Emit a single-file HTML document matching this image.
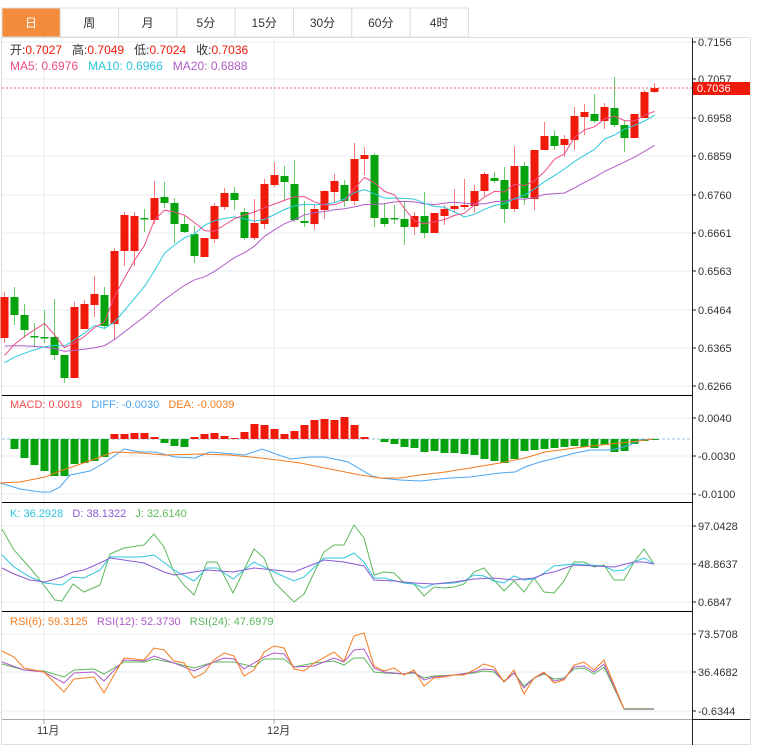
<!DOCTYPE html>
<html><head><meta charset="utf-8">
<style>
body{margin:0;background:#fff;font-family:"Liberation Sans","Noto Sans CJK SC",sans-serif;}
#wrap{position:relative;width:757px;height:753px;overflow:hidden;}
svg text{font-family:"Liberation Sans","Noto Sans CJK SC",sans-serif;white-space:pre;}
</style></head><body><div id="wrap"><svg id="s" width="757" height="753" xmlns="http://www.w3.org/2000/svg"></svg></div>
<script>
var S=document.getElementById('s'),h='';
function L(x1,y1,x2,y2,c,w,d){h+='<line x1="'+x1+'" y1="'+y1+'" x2="'+x2+'" y2="'+y2+'" stroke="'+c+'" stroke-width="'+(w||1)+'"'+(d?' stroke-dasharray="'+d+'"':'')+'/>';}
function R(x,y,w,hh,f,st){h+='<rect x="'+x+'" y="'+y+'" width="'+w+'" height="'+hh+'" fill="'+f+'"'+(st?' stroke="'+st+'"':'')+'/>';}
function T(x,y,t,c,sz,a){h+='<text x="'+x+'" y="'+y+'" fill="'+c+'" font-size="'+(sz||11)+'"'+(a?' text-anchor="'+a+'"':'')+'>'+t+'</text>';}
function P(pts,c,w){h+='<polyline fill="none" stroke="'+c+'" stroke-width="'+(w||1)+'" points="'+pts.map(function(p){return p[0]+','+p[1]}).join(' ')+'"/>';}
var tabs=['日','周','月','5分','15分','30分','60分','4时'];
for(var i=0;i<8;i++){var x=2+i*58.3;R(x,8,58.3,29,i==0?'#f28c3c':'#fff','#ddd');T(x+29,27,tabs[i],i==0?'#fff':'#333',12,'middle');}
R(1.5,37.5,749,707,'none','#ddd');
var gc='#e6edf2';
[42,79,118,156,195,233,271,310,348,386].forEach(function(y){L(2,y,692,y,gc);});
[418,456,494].forEach(function(y){L(2,y,692,y,gc);});
[526,564,602].forEach(function(y){L(2,y,692,y,gc);});
[634,672,711].forEach(function(y){L(2,y,692,y,gc);});
L(44,38,44,720,gc);L(274,38,274,720,gc);
L(2,395.5,692,395.5,'#000');L(2,502.5,692,502.5,'#000');L(2,611.5,692,611.5,'#000');
L(692.5,38,692.5,745,'#222');L(2,719.5,692,719.5,'#aaa');L(692,719.5,750,719.5,'#222');
var pl=[[42,'0.7156'],[79,'0.7057'],[118,'0.6958'],[156,'0.6859'],[195,'0.6760'],[233,'0.6661'],[271,'0.6563'],[310,'0.6464'],[348,'0.6365'],[386,'0.6266'],
[418,'0.0040'],[456,'-0.0030'],[494,'-0.0100'],[526,'97.0428'],[564,'48.8637'],[602,'0.6847'],[634,'73.5708'],[672,'36.4682'],[711,'-0.6344']];
pl.forEach(function(p){L(692,p[0],696,p[0],'#222');T(698,p[0]+4,p[1],'#333',11);});
var C=[[338,297,292,343],[297,315,287,325],[315,330,304,338],[336,337,323,347],[337,338,310,343],[337,355,299,360],[355,378,355,383],[378,307,302,378],[329,304,300,329],[305,294,276,317],
[295,326,287,329],[324,251,248,340],[251,215,212,266],[251,216,212,266],[218,219,209,232],[220,198,181,224],[197,203,182,208],[203,224,198,243],[224,232,216,233],[234,256,226,263],
[257,238,238,257],[239,206,203,243],[207,193,188,210],[193,200,187,210],[212,238,208,240],[238,223,199,240],[224,184,179,229],[185,175,162,187],[176,182,166,200],[184,220,160,222],
[221,223,201,227],[224,209,205,230],[210,191,190,219],[192,181,174,202],[185,201,180,207],[201,159,143,205],[159,155,147,175],[155,218,153,227],[218,224,203,227],[218,219,205,224],
[219,227,202,245],[227,216,212,235],[216,233,192,238],[233,213,213,233],[216,209,205,225],[209,206,189,213],[207,205,179,210],[206,191,185,213],[191,174,172,197],[178,181,172,183],
[180,209,167,223],[209,166,146,212],[166,198,162,205],[199,150,150,210],[150,136,122,150],[136,146,130,150],[145,139,135,157],[140,116,107,150],[117,112,104,135],[114,121,94,123],
[121,107,103,129],[108,125,77,127],[125,138,120,152],[138,114,114,138],[118,92,90,118],[92,88,83,93]];
var RED='#f01a0a',GRN='#06a30e';
C.forEach(function(c,i){var x=4.5+10*i,up=c[1]<c[0],col=up?RED:GRN;
L(x,c[2],x,c[3],up?'#f77':'#6c6',1);var t=Math.min(c[0],c[1]),b=Math.max(c[0],c[1]);R(x-4,t,8,Math.max(b-t,1.5),col);});
var pad=[325,325,325,325,325,325,325,325,325,370,370,370,370,370,370,370,370,370,370];
var cl=pad.concat(C.map(function(c){return c[1]}));
function ma(n){var r=[];for(var i=0;i<C.length;i++){var k=i+19,s=0;for(var j=0;j<n;j++)s+=cl[k-j];r.push([4.5+10*i,(s/n).toFixed(1)]);}return r;}
P(ma(20),'#b05cc8');P(ma(10),'#2ec6dc');P(ma(5),'#ee4d86');
L(2,88,692,88,'#f55',1,'2,2');R(693,82,57,13,RED);T(697,92,'0.7036','#fff',11);
h+='<text x="10" y="54" font-size="12" fill="#333">开:<tspan fill="#f01a0a">0.7027</tspan>   高:<tspan fill="#f01a0a">0.7049</tspan>   低:<tspan fill="#f01a0a">0.7024</tspan>   收:<tspan fill="#f01a0a">0.7036</tspan></text>';
h+='<text x="10" y="70" font-size="12"><tspan fill="#ee4d86">MA5: 0.6976</tspan>   <tspan fill="#2ec6dc">MA10: 0.6966</tspan>   <tspan fill="#b05cc8">MA20: 0.6888</tspan></text>';
L(2,439,692,439,'#9bd',1,'3,2');
var M=[439,449,458,465,471,476,476,464,463,461,457,434,434,433,433,437,443,446,447,437,434,433,436,438,432,424,425,429,434,431,425,420,419,420,417,425,437,439,442,444,447,448,452,451,453,453,454,455,459,461,463,459,451,450,449,448,447,446,447,448,445,452,451,444,441,440];
M.forEach(function(v,i){if(Math.abs(v-439)<1)return;var x=4.5+10*i;R(x-4,Math.min(v,439),8,Math.abs(v-439),v<439?RED:GRN);});
P([[0,483],[20,489],[40,492],[50,492],[60,487],[70,475],[90,471],[104,463],[120,452],[124,449],[140,452],[155,452],[175,457],[195,458],[210,452],[245,455],[262,449],[290,459],[310,457],[325,457],[348,462],[372,476],[380,478],[400,480],[420,481],[450,478],[470,477],[500,473],[515,472],[525,467],[540,462],[560,457],[575,453],[590,450],[610,450],[620,448],[630,445],[640,440],[653,439]],'#4ea5f0');
P([[0,483],[20,482],[45,477],[60,471],[75,466],[95,459],[108,454],[115,452],[140,453],[165,455],[200,454],[230,455],[270,459],[300,463],[330,469],[360,475],[380,478],[400,478],[420,475],[445,472],[470,468],[500,463],[525,458],[545,452],[575,448],[610,444],[630,442],[653,439]],'#f57c1f');
h+='<text x="10" y="408" font-size="11"><tspan fill="#f24a4a">MACD: 0.0019</tspan>   <tspan fill="#4ea5f0">DIFF: -0.0030</tspan>   <tspan fill="#f57c1f">DEA: -0.0039</tspan></text>';
P([[2,529],[14,550],[30,568],[40,580],[55,600],[62,601],[73,584],[84,592],[100,585],[110,554],[124,548],[144,545],[154,534],[164,547],[174,572],[184,585],[194,595],[207,562],[217,562],[233,593],[254,549],[264,558],[274,582],[294,602],[304,594],[324,552],[334,545],[344,545],[354,525],[364,538],[374,575],[384,572],[394,573],[404,583],[414,584],[424,596],[434,587],[444,588],[454,587],[464,584],[474,572],[484,568],[494,580],[504,591],[514,581],[524,592],[534,578],[544,592],[554,593],[564,581],[574,562],[584,562],[594,567],[604,565],[614,580],[624,580],[634,562],[644,549],[654,564]],'#5cb85c');
P([[2,555],[14,567],[30,577],[45,583],[62,585],[73,577],[84,578],[100,570],[110,557],[140,557],[154,555],[174,570],[194,581],[207,568],[217,568],[233,579],[254,562],[274,572],[294,581],[304,577],[324,558],[344,558],[354,553],[364,562],[374,578],[384,578],[404,583],[414,584],[424,588],[434,584],[454,583],[464,581],[474,575],[484,576],[494,581],[504,583],[514,576],[524,580],[534,579],[544,573],[554,566],[574,564],[604,566],[614,571],[624,570],[634,562],[644,558],[654,564]],'#2ec6dc');
P([[2,568],[14,574],[30,580],[45,582],[62,577],[73,572],[84,570],[100,563],[110,558],[124,560],[144,563],[164,572],[174,575],[194,572],[207,570],[233,572],[254,568],[274,570],[294,572],[304,568],[324,560],[344,562],[364,566],[374,580],[394,581],[414,583],[434,584],[454,582],[474,579],[494,578],[514,580],[524,579],[534,578],[544,574],[554,572],[574,565],[594,566],[614,567],[634,562],[644,562],[654,564]],'#8a5cd0');
h+='<text x="10" y="517" font-size="11"><tspan fill="#2ec6dc">K: 36.2928</tspan>   <tspan fill="#8a5cd0">D: 38.1322</tspan>   <tspan fill="#5cb85c">J: 32.6140</tspan></text>';
P([[2,664],[24,670],[44,671],[64,677],[74,670],[94,669],[104,674],[124,662],[144,662],[154,659],[174,663],[194,668],[214,662],[234,662],[254,667],[264,659],[284,659],[294,667],[314,663],[334,661],[344,665],[354,658],[364,658],[374,672],[384,673],[404,674],[414,673],[424,678],[434,676],[454,675],[474,673],[484,671],[494,672],[504,681],[514,673],[524,686],[534,678],[544,674],[554,679],[564,678],[574,669],[584,668],[594,674],[604,667],[624,709]],'#5cb85c');
P([[2,662],[24,670],[44,672],[64,683],[74,673],[94,672],[104,681],[124,660],[144,661],[154,656],[174,663],[194,671],[214,662],[224,658],[234,659],[244,669],[264,657],[274,653],[284,654],[294,667],[314,666],[334,658],[344,662],[354,650],[364,649],[374,668],[384,672],[404,674],[414,672],[424,680],[434,677],[454,675],[474,672],[484,669],[494,670],[504,682],[514,673],[524,688],[534,678],[544,673],[554,681],[564,679],[574,667],[584,666],[594,672],[604,664],[624,709]],'#b05cc8');
P([[2,651],[14,657],[24,668],[44,672],[64,692],[74,679],[94,677],[104,693],[114,675],[124,658],[144,660],[154,648],[164,650],[174,661],[184,663],[194,678],[204,673],[214,660],[224,653],[234,656],[244,676],[254,670],[264,652],[274,646],[284,648],[294,669],[304,671],[314,663],[334,652],[344,661],[354,636],[364,633],[374,666],[384,671],[394,668],[404,675],[414,670],[424,686],[434,678],[444,677],[454,675],[464,675],[474,670],[484,664],[494,667],[504,682],[514,670],[524,694],[534,678],[544,672],[554,683],[564,680],[574,665],[584,662],[594,670],[604,660],[624,709]],'#f57c1f');
L(624,709,654,709,'#aaa69a',2);
h+='<text x="10" y="625" font-size="11"><tspan fill="#f57c1f">RSI(6): 59.3125</tspan>   <tspan fill="#b05cc8">RSI(12): 52.3730</tspan>   <tspan fill="#5cb85c">RSI(24): 47.6979</tspan></text>';
L(44,720,44,724,'#aaa');L(274,720,274,724,'#aaa');
T(37,734,'11月','#333',11);T(267,734,'12月','#333',11);
S.innerHTML=h;
</script></body></html>
